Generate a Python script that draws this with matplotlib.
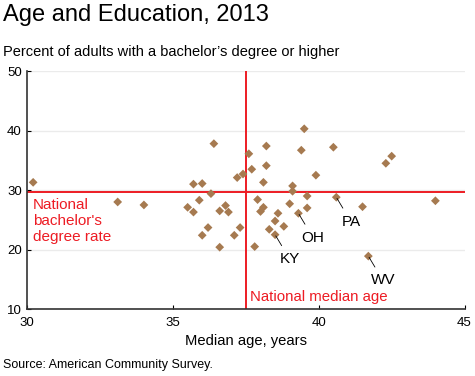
import matplotlib
matplotlib.use("Agg")
import matplotlib.pyplot as plt

plt.rcParams['font.family'] = ['Liberation Sans', 'DejaVu Sans']

# median age (years) and share with bachelor's degree (%) by state
age = [30.2, 33.1, 34.0, 36.4, 35.7, 36.0, 36.3, 35.9, 35.5, 35.7,
       36.6, 36.8, 36.9, 37.2, 37.4, 37.6, 36.2, 36.0, 36.6, 37.3,
       37.1, 38.2, 39.4, 40.5, 37.7, 38.2, 39.9, 38.1, 39.1, 39.1,
       37.9, 39.6, 40.6, 38.1, 38.0, 39.0, 39.6, 38.6, 39.3, 38.5,
       38.8, 38.3, 38.5, 37.8, 42.3, 42.5, 41.5, 44.0, 41.7, 39.5]
degree = [31.3, 28.0, 27.5, 37.8, 31.0, 31.1, 29.4, 28.3, 27.1, 26.3,
          26.5, 27.4, 26.3, 32.1, 32.7, 36.1, 23.7, 22.4, 20.4, 23.7,
          22.4, 37.4, 36.7, 37.2, 33.5, 34.1, 32.5, 31.3, 30.7, 29.8,
          28.4, 29.0, 28.8, 27.1, 26.4, 27.7, 27.0, 26.1, 26.1, 24.8,
          23.9, 23.4, 22.5, 20.5, 34.5, 35.7, 27.2, 28.2, 18.9, 40.3]

labels = ["PA", "OH", "KY", "WV"]
label_idx = [32, 38, 42, 48]

nat_age = 37.5
nat_degree = 29.6

xticks = [30, 35, 40, 45]
yticks = [10, 20, 30, 40, 50]

red = '#ED1C24'
brown = '#A67A50'

fig = plt.figure(figsize=(4.75, 3.76), dpi=100)
ax = fig.add_axes([0.0575, 0.178, 0.9205, 0.633])

ax.set_xlim(30, 45)
ax.set_ylim(10, 50)
ax.set_xticks(xticks)
ax.set_yticks(yticks)
ax.yaxis.grid(True, color='#EBEBEB', lw=1)
ax.set_axisbelow(True)
for s in ['top', 'right']:
    ax.spines[s].set_visible(False)
for s in ['left', 'bottom']:
    ax.spines[s].set_color('#333333')
    ax.spines[s].set_linewidth(1.2)
ax.tick_params(direction='in', length=3, labelsize=9.5, colors='black', pad=6)
ax.tick_params(axis='y', pad=4)

ax.axvline(nat_age, color=red, lw=1.4, zorder=2)
ax.axhline(nat_degree, color=red, lw=1.4, zorder=2)

ax.scatter(age, degree, marker='D', s=20, color=brown, edgecolors='none', zorder=3)

for lab, i in zip(labels, label_idx):
    ax.annotate(lab, xy=(age[i], degree[i]), xytext=(10.5, -17.5),
                textcoords='offset points', ha='center', va='center', fontsize=11,
                arrowprops=dict(arrowstyle='-', color='black', lw=0.6,
                                shrinkA=3, shrinkB=1))

ax.text(30.2, 28.6, "National\nbachelor's\ndegree rate", color=red, fontsize=11,
        va='top', ha='left', linespacing=1.15)
ax.text(37.65, 10.8, "National median age", color=red, fontsize=10.8,
        va='bottom', ha='left')

ax.set_xlabel("Median age, years", fontsize=10.6, labelpad=3)

fig.text(0.006, 0.945, "Age and Education, 2013", fontsize=17, ha='left', va='baseline')
fig.text(0.006, 0.85, "Percent of adults with a bachelor\u2019s degree or higher",
         fontsize=10.5, ha='left', va='baseline')
fig.text(0.006, 0.022, "Source: American Community Survey.", fontsize=9,
         ha='left', va='baseline')

fig.savefig("out.png", dpi=100)
